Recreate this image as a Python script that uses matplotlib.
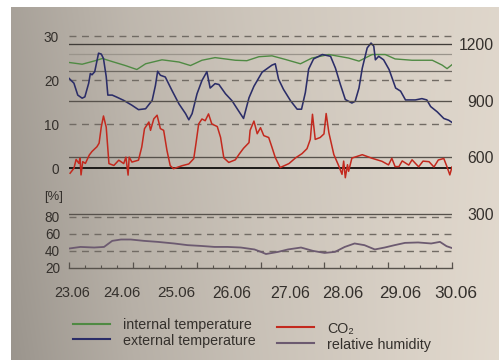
import numpy as np
import matplotlib
matplotlib.use("Agg")
import matplotlib.pyplot as plt
from matplotlib.lines import Line2D
from matplotlib.transforms import blended_transform_factory

plt.rcParams['font.family'] = ['Liberation Sans', 'DejaVu Sans']

# ---------------- data ----------------
date_labels = ["23.06", "24.06", "25.06", "26.06", "27.06", "28.06", "29.06", "30.06"]
date_label_pos = [0.05, 0.97, 1.97, 2.98, 4.04, 5.01, 6.05, 7.06]

temp_ticks = [0, 10, 20, 30]
co2_ticks = [300, 600, 900, 1200]
rh_ticks = [20, 40, 60, 80]
comfort_temp = [22, 26]

ext_days = [0, 0.09, 0.16, 0.24, 0.29, 0.36, 0.39, 0.42, 0.47, 0.54, 0.59, 0.63, 0.68, 0.71,
            0.79, 0.88, 1.00, 1.15, 1.27, 1.40, 1.52, 1.58, 1.62, 1.67, 1.76, 1.88, 2.01, 2.13,
            2.19, 2.25, 2.34, 2.43, 2.52, 2.58, 2.67, 2.74, 2.86, 2.98, 3.10, 3.19, 3.29, 3.38,
            3.53, 3.62, 3.71, 3.77, 3.83, 3.92, 4.05, 4.17, 4.25, 4.32, 4.38, 4.47, 4.63, 4.78,
            4.87, 4.96, 5.05, 5.17, 5.23, 5.30, 5.36, 5.45, 5.52, 5.57, 5.60, 5.66, 5.75, 5.85,
            5.97, 6.06, 6.15, 6.33, 6.45, 6.54, 6.61, 6.73, 6.85, 6.94, 7.0]
ext_temp = [20.4, 19.3, 16.6, 15.9, 16.2, 19.3, 21.5, 21.2, 21.9, 26.1, 25.9, 24.9, 20.8, 16.6,
            16.6, 16.1, 15.4, 14.3, 13.3, 13.5, 15.4, 18.8, 22.0, 21.1, 20.7, 17.7, 14.6, 12.4,
            11.0, 12.4, 16.9, 19.9, 21.9, 18.2, 19.2, 19.0, 16.9, 15.3, 13.0, 11.3, 16.0, 18.6,
            21.8, 22.6, 23.4, 23.7, 20.2, 17.9, 15.3, 13.4, 13.4, 17.2, 22.5, 24.8, 25.8, 25.4,
            22.7, 19.0, 15.6, 14.8, 15.2, 18.2, 22.7, 27.3, 28.4, 27.7, 24.6, 25.4, 24.6, 22.4,
            18.2, 17.5, 15.5, 15.5, 15.8, 15.5, 14.0, 12.8, 11.3, 10.9, 10.4]

int_days = [0, 0.24, 0.48, 0.61, 0.79, 1.03, 1.24, 1.40, 1.70, 2.01, 2.22, 2.43, 2.67, 3.04,
            3.25, 3.47, 3.71, 3.95, 4.23, 4.44, 4.75, 5.11, 5.30, 5.54, 5.78, 5.96, 6.27, 6.64,
            6.82, 6.91, 7.0]
int_temp = [24.0, 23.6, 24.4, 24.9, 24.2, 23.3, 22.4, 23.7, 24.6, 24.1, 23.3, 24.5, 25.1, 24.5,
            24.4, 25.3, 25.5, 24.7, 23.7, 25.0, 25.8, 25.0, 24.3, 25.8, 25.8, 24.8, 24.5, 24.5,
            23.4, 22.6, 23.5]

co2_days = [0.02, 0.09, 0.13, 0.18, 0.20, 0.22, 0.25, 0.30, 0.37, 0.42, 0.51, 0.55, 0.59, 0.63,
            0.68, 0.73, 0.82, 0.91, 1.00, 1.04, 1.08, 1.10, 1.15, 1.27, 1.33, 1.38, 1.46, 1.49,
            1.55, 1.61, 1.67, 1.73, 1.79, 1.85, 1.91, 2.07, 2.19, 2.28, 2.32, 2.37, 2.43, 2.49,
            2.55, 2.61, 2.71, 2.77, 2.83, 2.92, 3.04, 3.11, 3.19, 3.29, 3.31, 3.38, 3.44, 3.50,
            3.56, 3.65, 3.71, 3.77, 3.86, 4.02, 4.14, 4.26, 4.35, 4.41, 4.45, 4.50, 4.59, 4.66,
            4.70, 4.75, 4.84, 4.93, 4.99, 5.02, 5.05, 5.09, 5.11, 5.17, 5.36, 5.54, 5.72, 5.84,
            5.90, 5.96, 6.03, 6.09, 6.21, 6.27, 6.39, 6.47, 6.58, 6.67, 6.75, 6.85, 6.91, 6.96,
            7.0]
co2_ppm = [516, 542, 589, 568, 596, 507, 577, 568, 612, 631, 656, 675, 761, 819,
           760, 567, 557, 585, 567, 601, 506, 601, 575, 585, 655, 752, 787, 743,
           804, 823, 752, 743, 637, 556, 540, 556, 565, 593, 672, 777, 803, 794,
           830, 777, 763, 706, 597, 573, 587, 617, 648, 678, 743, 792, 725, 757,
           715, 705, 653, 599, 546, 567, 597, 620, 646, 695, 828, 695, 705, 724,
           832, 730, 615, 555, 510, 580, 492, 561, 526, 596, 614, 595, 579, 560,
           595, 551, 551, 581, 559, 587, 550, 580, 577, 549, 586, 594, 549, 507,
           549]

rh_days = [0, 0.21, 0.46, 0.64, 0.79, 0.95, 1.13, 1.37, 1.62, 1.92, 2.17, 2.41, 2.66, 2.90,
           3.14, 3.39, 3.51, 3.60, 3.82, 4.00, 4.24, 4.46, 4.67, 4.86, 5.04, 5.22, 5.40, 5.59,
           5.77, 5.95, 6.14, 6.38, 6.62, 6.78, 6.90, 6.99]
rh_pct = [42.5, 44.4, 43.7, 44.4, 51.6, 53.2, 53.2, 51.6, 50.4, 48.5, 46.5, 45.6, 44.4, 44.4,
          43.7, 41.4, 38.5, 36.0, 38.5, 41.4, 43.7, 39.7, 37.3, 38.5, 44.4, 48.5, 46.5, 41.4,
          43.7, 46.5, 49.2, 49.7, 48.5, 50.4, 45.3, 43.3]

# ---------------- styling ----------------
W, H = 499, 360
C_INT = '#4f8a43'
C_EXT = '#2b2d68'
C_CO2 = '#c3291e'
C_RH = '#6c5a70'
C_TXT = '#34302c'
C_DASH = '#716b64'
C_SOLID = '#57524c'

fig = plt.figure(figsize=(W / 100, H / 100), dpi=100)

# photographed paper background
bg = fig.add_axes([0, 0, 1, 1], zorder=-10)
yy, xx = np.mgrid[0:H, 0:W]
L = np.interp(xx, [11, 60, 130, 250, 400, 499], [168, 178, 191, 205, 217, 223])
L = L - 14 * (yy / H) * (1 - xx / W) + 3 * (yy / H) * (xx / W)
rgb = np.stack([L * 1.0, L * 0.962, L * 0.912], axis=-1) / 255.0
rgb = np.clip(rgb, 0, 1)
rgb[:7, :, :] = 1.0
rgb[:, :11, :] = 1.0
bg.imshow(rgb, aspect='auto', interpolation='bilinear')
bg.axis('off')


def fx(x):
    return x / W


def fy(y):
    return 1 - y / H


x0, x1 = 69, 452
y_bot = 267.5
y_top = 31.6
px_per_deg = 4.41
y_zero = 168.3

ax = fig.add_axes([fx(x0), fy(y_bot), (x1 - x0) / W, (y_bot - y_top) / H])
ax.set_xlim(0, 7)
t_lo = -(y_bot - y_zero) / px_per_deg
t_hi = (y_zero - y_top) / px_per_deg
ax.set_ylim(t_lo, t_hi)
ax.patch.set_alpha(0)
for s in ax.spines.values():
    s.set_visible(False)
ax.set_xticks([])
ax.set_yticks(temp_ticks)
ax.tick_params(axis='y', length=0, pad=7.2, labelsize=9.8, labelcolor=C_TXT)

ax2 = ax.twinx()
co2_of_t = lambda t: 542 + 23.35 * t
ax2.set_ylim(co2_of_t(t_lo), co2_of_t(t_hi))
ax2.set_xlim(0, 7)
ax2.patch.set_alpha(0)
for s in ax2.spines.values():
    s.set_visible(False)
ax2.set_yticks(co2_ticks)
ax2.tick_params(axis='y', length=0, pad=30.2, labelsize=11.3, labelcolor=C_TXT)
for lbl in ax2.get_yticklabels():
    lbl.set_ha('right')

# grid lines
for t in temp_ticks[1:]:
    ax.axhline(t, color=C_DASH, lw=1.0, dashes=(5, 4), zorder=1)
ax.axhline(comfort_temp[0], color='#6e6962', lw=0.9, zorder=1)
ax.axhline(comfort_temp[1], color='#9a948b', lw=0.9, zorder=1)
for c in co2_ticks:
    ax2.axhline(c, color=C_SOLID if c != 1200 else '#403c38', lw=0.95, zorder=1)
ax.axhline(0, color='#1c1a18', lw=1.4, zorder=2)

ax.plot(int_days, int_temp, color=C_INT, lw=1.0, zorder=3)
ax.plot(ext_days, ext_temp, color=C_EXT, lw=1.15, zorder=4)
ax2.plot(co2_days, co2_ppm, color=C_CO2, lw=1.1, zorder=5)

# humidity panel
px_per_pct = 0.843
axh = fig.add_axes([fx(x0), fy(y_bot), (x1 - x0) / W, (y_bot - 205) / H])
axh.set_xlim(0, 7)
axh.set_ylim(20, 20 + (y_bot - 205) / px_per_pct)
axh.patch.set_alpha(0)
for k in ['top', 'left', 'right']:
    axh.spines[k].set_visible(False)
axh.spines['bottom'].set_color(C_SOLID)
axh.spines['bottom'].set_linewidth(1.0)
axh.set_yticks(rh_ticks)
axh.tick_params(axis='y', length=0, pad=6.5, labelsize=9.8, labelcolor=C_TXT)
axh.set_xticks(np.arange(0, 7.01, 7 / 6))
axh.set_xticks(np.arange(0, 7.01, 7 / 24), minor=True)
axh.tick_params(axis='x', which='major', direction='in', length=4.5, width=0.9,
                color=C_SOLID, labelbottom=False)
axh.tick_params(axis='x', which='minor', direction='in', length=2.2, width=0.8,
                color=C_SOLID, labelbottom=False)
for h in rh_ticks[1:]:
    axh.axhline(h, color=C_DASH, lw=1.0, dashes=(5, 4), zorder=1)
axh.plot(rh_days, rh_pct, color=C_RH, lw=1.3, zorder=3)

fig.text(fx(44), fy(197), '[%]', fontsize=9.4, color=C_TXT, ha='left', va='center')

# date labels
tr = blended_transform_factory(axh.transData, fig.transFigure)
n = len(date_labels)
for i, (lab, pos) in enumerate(zip(date_labels, date_label_pos)):
    size = 10.4 + 2.0 * i / (n - 1)
    axh.text(pos, fy(293), lab, transform=tr, ha='center', va='center',
             fontsize=size, color=C_TXT)

# legend (drawn by hand)
leg = [
    ('internal temperature', C_INT, 73, 110, 323.5, 123, 325.0),
    ('external temperature', C_EXT, 73, 110, 338.5, 123, 340.5),
    ('CO\u2082', C_CO2, 277, 314, 327.0, 327, 328.5),
    ('relative humidity', C_RH, 277, 314, 342.5, 327, 345.0),
]
for txt, col, lx0, lx1, ly, tx, ty in leg:
    fig.add_artist(Line2D([fx(lx0), fx(lx1)], [fy(ly), fy(ly)], color=col, lw=1.5,
                          transform=fig.transFigure))
    fig.text(fx(tx), fy(ty), txt, fontsize=10.3, color=C_TXT, ha='left', va='center')

fig.savefig('out.png', dpi=100)
